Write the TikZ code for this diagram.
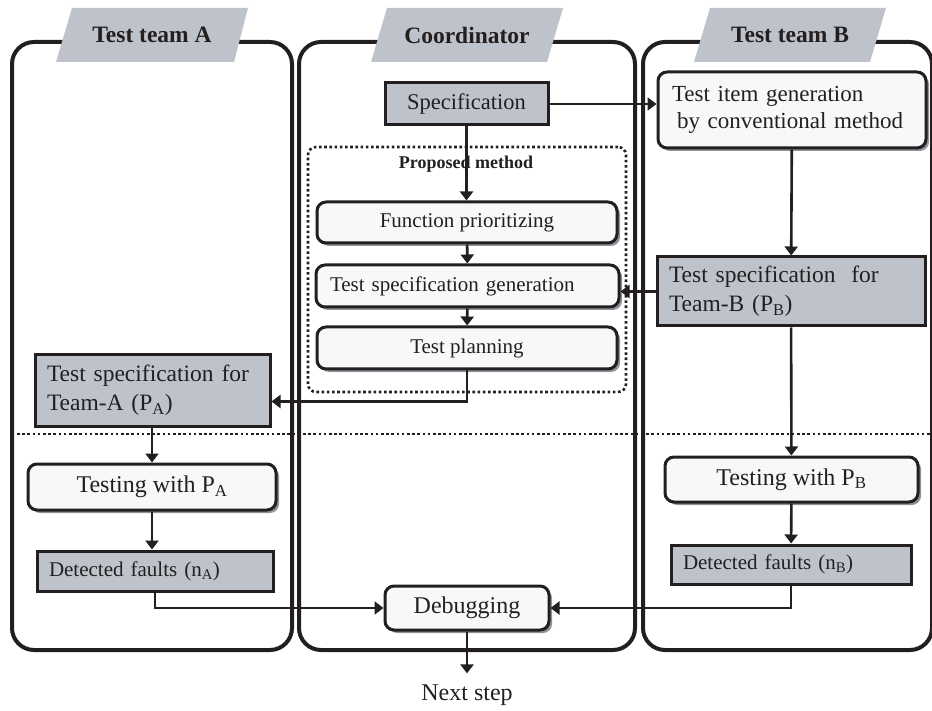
\documentclass[tikz,border=0pt]{standalone}
\usepackage{fontspec}
\setmainfont{Liberation Serif}
\usetikzlibrary{arrows.meta,shadows}
\definecolor{boxgray}{HTML}{BEC3CB}
\definecolor{boxwhite}{HTML}{F8F8F8}
\definecolor{shadowgray}{HTML}{8E949C}
\definecolor{linegray}{HTML}{231F20}
\tikzset{
  lane/.style={draw=linegray, line width=4pt, rounded corners=22pt},
  tab/.style={fill=boxgray},
  title/.style={font=\fontsize{23.5}{27}\selectfont\bfseries, text=linegray},
  graybox/.style={draw=linegray, fill=boxgray, line width=3pt, inner sep=0pt, text=linegray, font=\fontsize{23.5}{29}\selectfont},
  whitebox/.style={draw=linegray, fill=boxwhite, line width=3pt, rounded corners=9pt, inner sep=0pt, text=linegray, drop shadow={shadow xshift=3pt, shadow yshift=-3pt, fill=shadowgray, opacity=1}, font=\fontsize{23.5}{27}\selectfont},
  dotline/.style={draw=linegray, line width=2.6pt, dash pattern=on 2.6pt off 2.6pt},
  flow/.style={draw=linegray, line width=2.6pt, -{Triangle[length=9pt,width=13pt]}},
}
\begin{document}
\begin{tikzpicture}[x=1pt,y=-1pt]
\useasboundingbox (0,0) rectangle (932,711);
\draw[lane] (12,42) rectangle (292,650);
\draw[lane] (299,42) rectangle (635,650);
\draw[lane] (643,42) rectangle (932,650);
\fill[tab] (56,62) -- (72,8) -- (248,8) -- (234,62) -- cycle;
\fill[tab] (371,62) -- (387,8) -- (563,8) -- (547,62) -- cycle;
\fill[tab] (694,62) -- (710,8) -- (886,8) -- (870,62) -- cycle;
\node[title] (titleA) at (152,35) {Test team A};
\node[title] (titleC) at (467,35) {Coordinator};
\node[title] (titleB) at (790,35) {Test team B};
\node[dotline, rounded corners=8pt, minimum width=318pt, minimum height=245pt] (proposed) at (467,269.5) {};
\node[font=\fontsize{18}{20}\selectfont\bfseries, text=linegray] (proplabel) at (466,164) {Proposed method};
\draw[dotline] (17,434) -- (932,434);
\node[graybox, minimum width=163pt, minimum height=42pt, font=\fontsize{22.5}{26}\selectfont] (spec) at (466.5,104) {Specification};
\node[whitebox, minimum height=76pt, text width=240pt, inner xsep=14pt, align=left, font=\fontsize{23}{27}\selectfont] (itemgen) at (792,110) {Test item generation\\\hspace{5pt}by conventional method};
\node[whitebox, minimum width=300pt, minimum height=41pt, font=\fontsize{21}{24}\selectfont] (prio) at (467,222.5) {Function prioritizing};
\node[whitebox, minimum height=42pt, text width=275pt, inner xsep=14pt, align=left, font=\fontsize{21}{24}\selectfont] (specgen) at (467.5,286) {Test specification generation};
\node[whitebox, minimum width=300pt, minimum height=42pt, font=\fontsize{21}{24}\selectfont] (plan) at (467,348) {Test planning};
\node[graybox, minimum height=69pt, text width=244pt, inner xsep=12pt, align=left] (specB) at (791,291.5) {Test specification\ \ for\\Team-B (P\textsubscript{B})};
\node[graybox, minimum height=71pt, text width=211pt, inner xsep=12pt, align=left] (specA) at (152.5,390.5) {Test specification for\\Team-A (P\textsubscript{A})};
\node[whitebox, minimum width=248pt, minimum height=46pt, font=\fontsize{24}{27}\selectfont] (testA) at (152,487) {Testing with P\textsubscript{A}};
\node[graybox, minimum height=40pt, text width=212pt, inner xsep=12pt, align=left, font=\fontsize{21}{25}\selectfont] (faultsA) at (155,571) {Detected faults (n\textsubscript{A})};
\node[whitebox, minimum width=253pt, minimum height=45pt, font=\fontsize{24}{27}\selectfont] (testB) at (791.5,479.5) {Testing with P\textsubscript{B}};
\node[graybox, minimum height=39pt, text width=216pt, inner xsep=12pt, align=left, font=\fontsize{21}{25}\selectfont] (faultsB) at (791,564.5) {Detected faults (n\textsubscript{B})};
\node[whitebox, minimum width=164pt, minimum height=44pt, font=\fontsize{24}{27}\selectfont] (debug) at (467,608) {Debugging};
\node[font=\fontsize{24}{27}\selectfont, text=linegray, inner sep=2pt] (next) at (467,695) {Next step};
\draw[flow] (spec.east) -- (spec.east -| itemgen.west);
\draw[flow] (spec) -- (spec |- prio.north);
\draw[flow] (prio) -- (specgen);
\draw[flow] (specgen) -- (plan);
\draw[flow] (itemgen) -- (specB);
\draw[flow] (specB.west) -- (specB.west -| specgen.east);
\draw[flow] (plan.south) |- ([yshift=-11pt]specA.east);
\draw[flow] (testA |- specA.south) -- (testA);
\draw[flow] (testA) -- (testA |- faultsA.north);
\draw[flow] (faultsA.south) |- (debug.west);
\draw[flow] (specB) -- (testB);
\draw[flow] (testB) -- (faultsB);
\draw[flow] (faultsB.south) |- (debug.east);
\draw[flow, shorten >=9pt] (debug) -- (next);
\end{tikzpicture}
\end{document}
